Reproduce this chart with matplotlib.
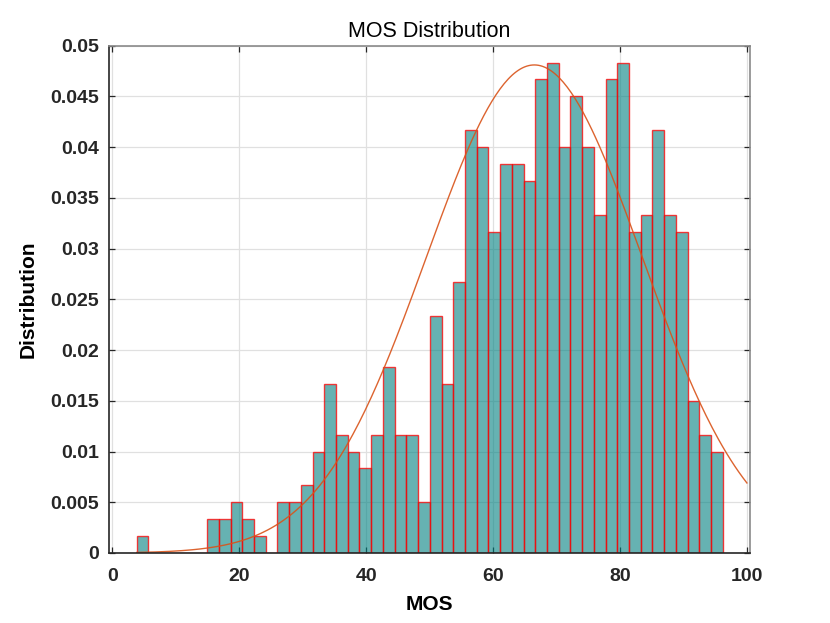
import matplotlib
matplotlib.use('Agg')
import matplotlib.pyplot as plt
import numpy as np

plt.rcParams['font.family'] = ['Liberation Sans', 'DejaVu Sans']

# histogram: 50 bins between the lowest and highest MOS
bin_lo = 3.85
bin_hi = 96.2
counts = [1, 0, 0, 0, 0, 0, 2, 2, 3, 2,
          1, 0, 3, 3, 4, 6, 10, 7, 6, 5,
          7, 11, 7, 7, 3, 14, 10, 16, 25, 24,
          19, 23, 23, 22, 28, 29, 24, 27, 24, 20,
          28, 29, 19, 20, 25, 20, 19, 9, 7, 6]

# fitted normal curve
fit_mu = 66.5
fit_sigma = 17.0
fit_peak = 0.0481

yticks = [0, 0.005, 0.01, 0.015, 0.02, 0.025, 0.03, 0.035, 0.04, 0.045, 0.05]
xticks = [0, 20, 40, 60, 80, 100]

counts = np.array(counts, dtype=float)
edges = np.linspace(bin_lo, bin_hi, len(counts) + 1)
heights = counts / counts.sum()   # probability normalisation
width = edges[1] - edges[0]

fig = plt.figure(figsize=(8.3, 6.23), dpi=100)
ax = fig.add_axes([0.131, 0.1124, 0.7727, 0.8143])

ax.grid(True, color='#e0e0e0', linewidth=0.9)
ax.set_axisbelow(True)

ax.bar(edges[:-1], heights, width=width, align='edge',
       facecolor=(0, 0.5, 0.5, 0.6), edgecolor=(1, 0, 0, 0.75), linewidth=1.0)

xf = np.linspace(bin_lo, 100, 300)
yf = fit_peak * np.exp(-(xf - fit_mu) ** 2 / (2 * fit_sigma ** 2))
ax.plot(xf, yf, color='#D95319', linewidth=1.0, alpha=0.9)

ax.set_xlim(-0.57, 100.5)
ax.set_ylim(0, 0.05)
ax.set_xticks(xticks)
ax.set_yticks(yticks)
ax.set_yticklabels(['%g' % v for v in yticks])

ax.tick_params(direction='in', length=4, width=0.9, top=True, right=True,
               colors='#262626', labelsize=14, pad=7)
ax.tick_params(axis='x', pad=11)
for lab in ax.get_xticklabels() + ax.get_yticklabels():
    lab.set_fontweight('bold')
    lab.set_color('#262626')

ax.spines['left'].set_color('#262626')
ax.spines['bottom'].set_color('#262626')
ax.spines['top'].set_color('#8a8a8a')
ax.spines['right'].set_color('#8a8a8a')
for s in ax.spines.values():
    s.set_linewidth(1.2)

ax.set_title('MOS Distribution', fontsize=15.5, pad=6)
ax.set_xlabel('MOS', fontsize=15, fontweight='bold', labelpad=7)
ax.set_ylabel('Distribution', fontsize=15, fontweight='bold', labelpad=9)

fig.savefig('out.png', dpi=100)
